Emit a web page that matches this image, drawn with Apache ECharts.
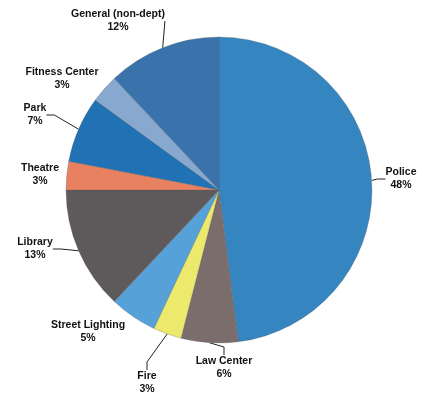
<!DOCTYPE html>
<html>
<head>
<meta charset="utf-8">
<script src="https://cdn.jsdelivr.net/npm/echarts@6/dist/echarts.min.js"></script>
<style>
  html, body { margin: 0; padding: 0; background: #fff; }
  #chart { width: 422px; height: 396px; }
</style>
</head>
<body>
<div id="chart"></div>
<script>
// 数据（顺时针，从12点开始）
const categories = ['Police', 'Law Center', 'Fire', 'Street Lighting', 'Library', 'Theatre', 'Park', 'Fitness Center', 'General (non-dept)']
const shares = [48, 6, 3, 5, 13, 3, 7, 3, 12]
const colors = ['#3585c0', '#7b6d6c', '#ece96c', '#56a2d8', '#5e595b', '#e8815f', '#2072b4', '#88a9cf', '#3a73ab']
// 标签中心位置（像素），只管排版
const labelPos = [[401, 179], [224, 368], [147, 383], [88, 332], [35, 249], [40, 175], [35, 115], [62, 79], [118, 21]]
const showLine = [true, true, true, false, true, false, true, false, true]

const chart = echarts.init(document.getElementById('chart'), null, { renderer: 'canvas' })

const option = {
  animation: false,
  backgroundColor: '#fff',
  series: [{
    type: 'pie',
    center: [219, 190],
    radius: 153,
    startAngle: 90,
    clockwise: true,
    data: categories.map((name, i) => ({
      name: name,
      value: shares[i],
      itemStyle: { color: colors[i] },
      labelLine: { show: showLine[i] }
    })),
    itemStyle: {
      borderColor: 'rgba(90,90,90,0.45)',
      borderWidth: 0.6
    },
    label: {
      show: true,
      position: 'outside',
      formatter: '{b}\n{c}%',
      align: 'center',
      overflow: 'none',
      color: '#111',
      fontFamily: 'Liberation Sans, Arial, sans-serif',
      fontWeight: 'bold',
      fontSize: 10.5,
      lineHeight: 13
    },
    labelLine: {
      show: true,
      length: 8,
      length2: 8,
      lineStyle: { color: '#222', width: 1 }
    },
    labelLayout: function (params) {
      const p = labelPos[params.dataIndex]
      return { x: p[0], y: p[1], align: 'center', verticalAlign: 'middle' }
    }
  }]
}

chart.setOption(option)
</script>
</body>
</html>
